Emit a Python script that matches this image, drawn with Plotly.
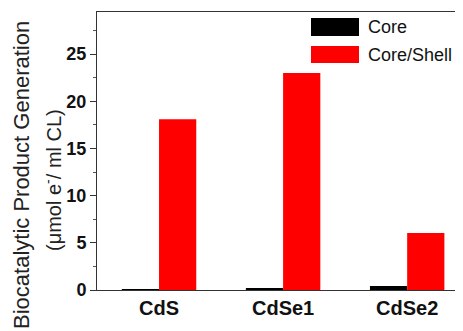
import plotly.graph_objects as go

categories = ["CdS", "CdSe1", "CdSe2"]
core = [0.05, 0.22, 0.42]
core_shell = [18.1, 23.0, 6.05]
series_names = ["Core", "Core/Shell"]
series_colors = ["#000000", "#ff0000"]
y_ticks = [0, 5, 10, 15, 20, 25]

# page has an 8px body margin; figure placed at (8, 8)
OFF = 8
W, H = 463 - OFF, 331 - OFF
PL, PT, PR, PB = 97, 12, 463, 290          # plot area in page pixels
L, T = PL - OFF, PT - OFF
R, B = W - (PR - OFF), H - (PB - OFF)
pw, ph = PR - PL, PB - PT

def px(x):
    return (x - PL) / pw

def py(y):
    return (PB - y) / ph

FONT = "Liberation Sans, Arial"

fig = go.Figure()
for name, vals, col in zip(series_names, [core, core_shell], series_colors):
    fig.add_trace(go.Bar(x=categories, y=vals, name=name, marker_color=col,
                         marker_line_width=0, showlegend=False))

# manual legend
leg_y = [(18, 36), (46, 63)]
for (y0, y1), name, col in zip(leg_y, series_names, series_colors):
    fig.add_shape(type="rect", xref="paper", yref="paper",
                  x0=px(311), x1=px(359), y0=py(y1), y1=py(y0),
                  fillcolor=col, line_width=0)
    fig.add_annotation(xref="paper", yref="paper", x=px(366), y=py((y0 + y1) / 2),
                       text=name, showarrow=False, xanchor="left", yanchor="middle",
                       font=dict(family=FONT, size=18, color="#111"))

# y-axis title (two lines)
fig.add_annotation(xref="paper", yref="paper", x=0, y=py(175), xshift=21 - PL,
                   text="Biocatalytic Product Generation", textangle=-90, showarrow=False,
                   xanchor="center", yanchor="middle",
                   font=dict(family=FONT, size=22, color="#222"))
fig.add_annotation(xref="paper", yref="paper", x=0, y=py(180), xshift=52 - PL,
                   text="(\u03bcmol e<sup>-</sup>/ ml CL)", textangle=-90, showarrow=False,
                   xanchor="center", yanchor="middle",
                   font=dict(family=FONT, size=20, color="#222"))

fig.update_layout(
    width=W, height=H,
    margin=dict(l=L, r=R, t=T, b=B, pad=0),
    paper_bgcolor="white", plot_bgcolor="white",
    barmode="group", bargap=0.4, bargroupgap=0,
    xaxis=dict(range=[-0.5, 2.45], showline=True, linecolor="#333", linewidth=1,
               mirror=True, ticks="", showgrid=False, zeroline=False,
               tickfont=dict(family=FONT, size=20, color="#111", weight="bold")),
    yaxis=dict(range=[0, 29.45], showline=True, linecolor="#333", linewidth=1,
               tickvals=y_ticks, ticks="outside", ticklen=6, tickcolor="#333",
               minor=dict(dtick=2.5, ticks="outside", ticklen=3, tickcolor="#555"),
               showgrid=False, zeroline=False,
               tickfont=dict(family=FONT, size=18, color="#111", weight="bold")),
)

fig.write_html("out.html")
